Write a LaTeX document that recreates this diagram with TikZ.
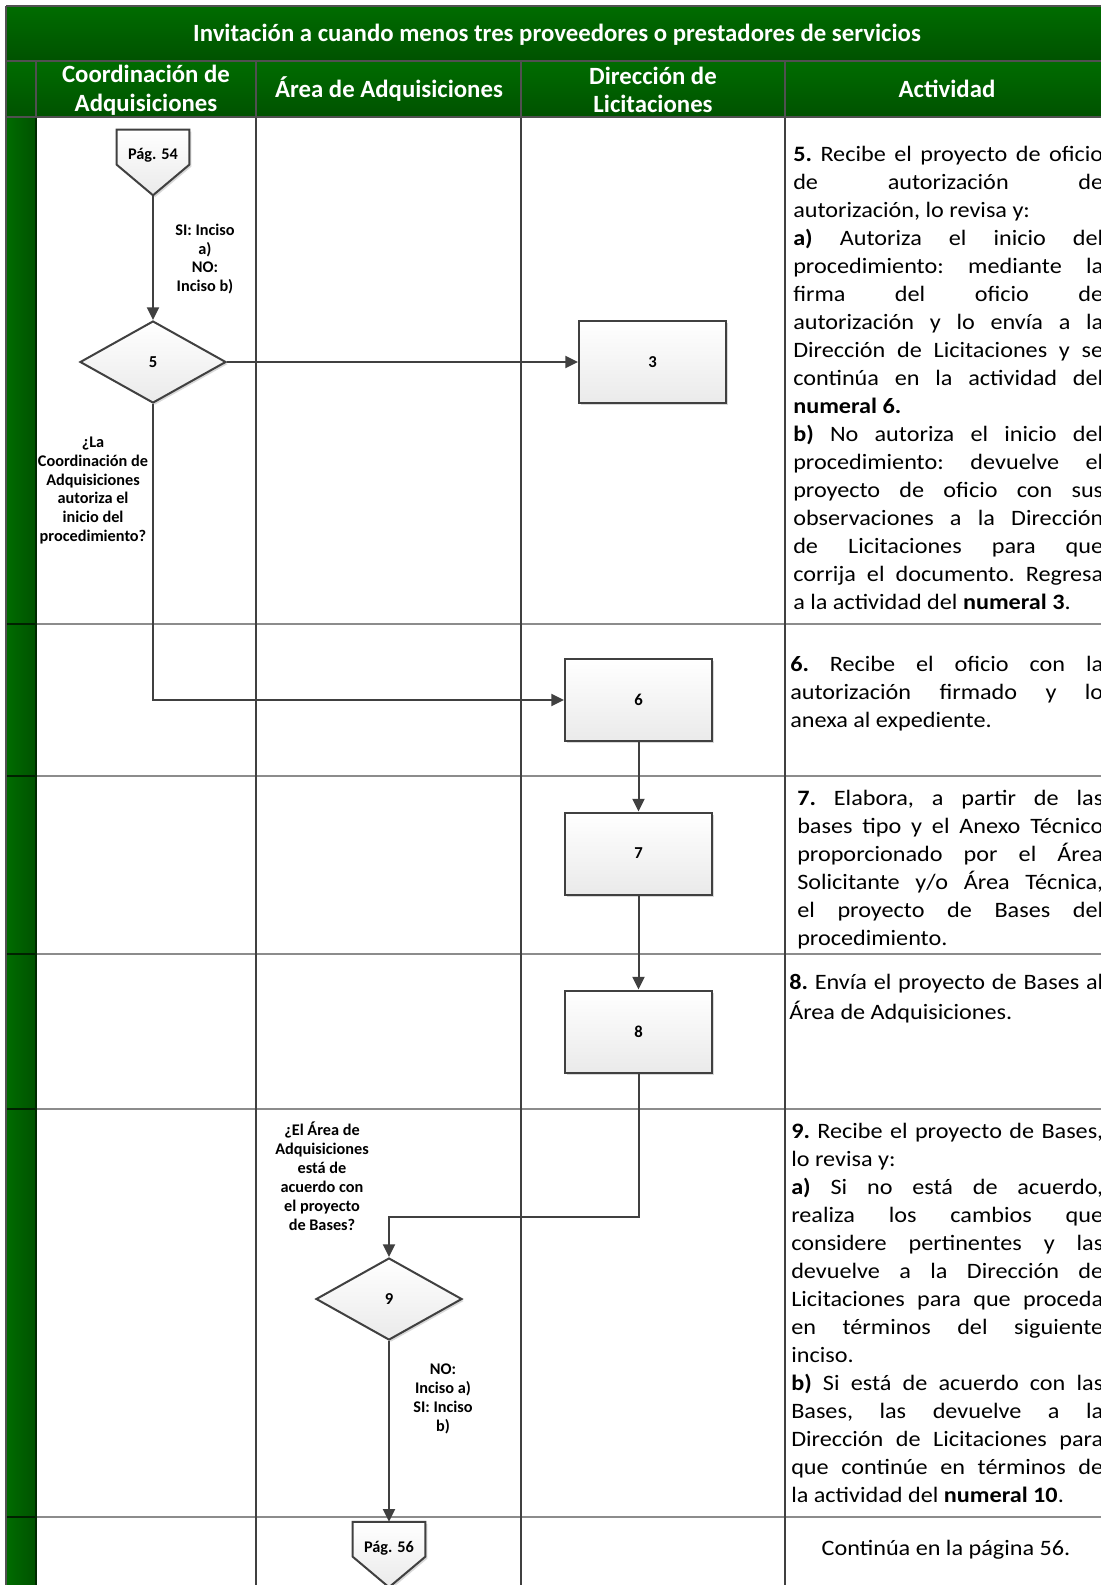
\documentclass[tikz,border=0pt]{standalone}
\usepackage{fontspec}
\setmainfont{Carlito}
\newfontfamily\actfont[FakeStretch=1.10]{Carlito}
\usetikzlibrary{arrows.meta,shadows,calc,shapes.geometric}
\definecolor{gtop}{RGB}{0,108,0}
\definecolor{gbot}{RGB}{0,82,0}
\definecolor{lnd}{RGB}{64,64,64}
\definecolor{lnr}{RGB}{140,140,140}
\definecolor{hdr}{RGB}{80,80,80}
\definecolor{boxbot}{RGB}{234,234,234}
\newcommand{\actpar}[2]{\begin{minipage}[t]{#1}\actfont\fontsize{16.5pt}{21pt}\selectfont\frenchspacing
\parindent=0pt \tolerance=10000 \pretolerance=-1 \hbadness=10000 \hyphenpenalty=10000 \exhyphenpenalty=10000 \parfillskip=0pt plus 1fil
#2\end{minipage}}
\begin{document}
\begin{tikzpicture}[x=0.75pt,y=-0.75pt,
  colline/.style={draw=lnd, line width=2pt},
  rowline/.style={draw=lnr, line width=1.3pt},
  hdrline/.style={draw=hdr, line width=1.5pt},
  conn/.style={draw=lnd, line width=1.5pt, -{Triangle[length=9.5pt,width=9pt]}},
  shapefill/.style={draw=lnd, line width=1.5pt, top color=white, bottom color=boxbot,
     drop shadow={shadow xshift=1.5pt, shadow yshift=-1.5pt, fill=black!25, opacity=0.6}},
  procbox/.style={shapefill, rectangle, minimum width=110.25pt, minimum height=61.5pt, inner sep=0pt,
     font=\bfseries\fontsize{12.5pt}{14pt}\selectfont},
  decbox/.style={shapefill, diamond, minimum width=109.5pt, minimum height=61.5pt, inner sep=0pt,
     font=\bfseries\fontsize{12.5pt}{14pt}\selectfont},
  pgframe/.style={rectangle, minimum width=54pt, minimum height=48.75pt, inner sep=0pt},
  boxtxt/.style={inner sep=0pt, font=\bfseries\fontsize{12.2pt}{14pt}\selectfont},
  lbl/.style={align=center, inner sep=0pt, font=\bfseries\fontsize{12.2pt}{14.2pt}\selectfont},
  hdrtxt/.style={text=white, align=center, inner sep=0pt, font=\bfseries\fontsize{18.6pt}{20.5pt}\selectfont},
  acttxt/.style={anchor=base west, inner sep=0pt},
]
\useasboundingbox (0,0) rectangle (1100,1585);
\fill[white] (0,0) rectangle (1100,1585);

% title and header bands
\fill[top color=gtop, bottom color=gbot] (6,6) rectangle (1110,61);
\fill[top color=gtop, bottom color=gbot] (6,61) rectangle (1110,117);
\fill[left color=gtop, right color=gbot] (6,117) rectangle (36,1590);

% row lines
\foreach \yy in {624,776,954,1109,1517} {
  \draw[rowline] (36,\yy) -- (1110,\yy);
  \draw[draw=black!60!gbot, line width=1pt] (6,\yy) -- (36,\yy);
}
% column lines (body)
\foreach \xx in {256,521,785} \draw[colline] (\xx,117) -- (\xx,1590);
\draw[draw=black!50!gbot, line width=1pt] (36,117) -- (36,1590);

% header lines
\draw[hdrline] (6,61) -- (1110,61);
\draw[hdrline] (6,117) -- (1110,117);
\foreach \xx in {36,256,521,785} \draw[hdrline] (\xx,61) -- (\xx,117);
\draw[hdrline] (6,6) -- (1110,6);
\draw[hdrline] (6,6) -- (6,1590);

% header texts
\node[hdrtxt] (title) at (557,35) {Invitación a cuando menos tres proveedores o prestadores de servicios};
\node[hdrtxt] (h1) at (146,90.5) {Coordinación de\\[1pt]Adquisiciones};
\node[hdrtxt] (h2) at (389,89) {Área de Adquisiciones};
\node[hdrtxt] (h3) at (653,90) {Dirección de\\[1pt]Licitaciones};
\node[hdrtxt] (h4) at (947,89) {Actividad};

% shapes
\node[pgframe] (p54) at (153,162.5) {};
\node[decbox] (d5) at (153,362) {5};
\node[procbox] (b3) at (652.5,362) {3};
\node[procbox] (b6) at (638.5,700) {6};
\node[procbox] (b7) at (638.5,853.5) {7};
\node[procbox] (b8) at (638.5,1031.5) {8};
\node[decbox] (d9) at (389,1299) {9};
\node[pgframe] (p56) at (389,1554.5) {};
\coordinate (k9) at (638.5,1217);

% connectors
\draw[conn] (p54.south) -- (d5.north);
\draw[conn] (d5.east) -- (b3.west);
\draw[conn] (d5.south) |- (b6.west);
\draw[conn] (b6.south) -- (b7.north);
\draw[conn] (b7.south) -- (b8.north);
\draw[conn] (b8.south) -- (k9) -| (d9.north);
\draw[conn] (d9.south) -- (p56.north);

% off-page connectors
\draw[shapefill] (p54.north west) -- (p54.north east) -- ($(p54.north east)+(0,35)$) -- (p54.south) -- ($(p54.north west)+(0,35)$) -- cycle;
\node[boxtxt] (p54t) at (153,155) {Pág. 54};
\draw[shapefill] (p56.north west) -- (p56.north east) -- ($(p56.north east)+(0,35)$) -- (p56.south) -- ($(p56.north west)+(0,35)$) -- cycle;
\node[boxtxt] (p56t) at (389,1548) {Pág. 56};

% labels
\node[lbl] (l5a) at (205,259) {SI: Inciso\\a)\\NO:\\Inciso b)};
\node[lbl] (l5b) at (93,490.5) {¿La\\Coordinación de\\Adquisiciones\\autoriza el\\inicio del\\procedimiento?};
\node[lbl] (l9a) at (322,1176) {¿El Área de\\Adquisiciones\\está de\\acuerdo con\\el proyecto\\de Bases?};
\node[lbl] (l9b) at (443,1398.5) {NO:\\Inciso a)\\SI: Inciso\\b)};

% activity texts
\node[acttxt] (t5) at (793,161) {\actpar{232.5pt}{\textbf{5.} Recibe el proyecto de oficio\linebreak de autorización de\linebreak autorización, lo revisa y:\\
\textbf{a)} Autoriza el inicio del\linebreak procedimiento: mediante la\linebreak firma del oficio de\linebreak autorización y lo envía a la\linebreak Dirección de Licitaciones y se\linebreak continúa en la actividad del\linebreak \textbf{numeral 6.}\\
\textbf{b)} No autoriza el inicio del\linebreak procedimiento: devuelve el\linebreak proyecto de oficio con sus\linebreak observaciones a la Dirección\linebreak de Licitaciones para que\linebreak corrija el documento. Regresa\linebreak a la actividad del \textbf{numeral 3}.}};
\node[acttxt] (t6) at (790,671) {\actpar{234.75pt}{\textbf{6.} Recibe el oficio con la\linebreak autorización firmado y lo\linebreak anexa al expediente.}};
\node[acttxt] (t7) at (797,805) {\actpar{229.5pt}{\textbf{7.} Elabora, a partir de las\linebreak bases tipo y el Anexo Técnico\linebreak proporcionado por el Área\linebreak Solicitante y/o Área Técnica,\linebreak el proyecto de Bases del\linebreak procedimiento.}};
\node[acttxt] (t8) at (789,989) {\actpar{235.5pt}{\fontsize{16.5pt}{23pt}\selectfont\textbf{8.} Envía el proyecto de Bases al\linebreak Área de Adquisiciones.}};
\node[acttxt] (t9) at (791,1138) {\actpar{234pt}{\textbf{9.} Recibe el proyecto de Bases,\linebreak lo revisa y:\\
\textbf{a)} Si no está de acuerdo,\linebreak realiza los cambios que\linebreak considere pertinentes y las\linebreak devuelve a la Dirección de\linebreak Licitaciones para que proceda\linebreak en términos del siguiente\linebreak inciso.\\
\textbf{b)} Si está de acuerdo con las\linebreak Bases, las devuelve a la\linebreak Dirección de Licitaciones para\linebreak que continúe en términos de\linebreak la actividad del \textbf{numeral 10}.}};
\node[inner sep=0pt, font=\actfont\fontsize{16.5pt}{21pt}\selectfont] (tc) at (946,1550) {Continúa en la página 56.};
\end{tikzpicture}
\end{document}
